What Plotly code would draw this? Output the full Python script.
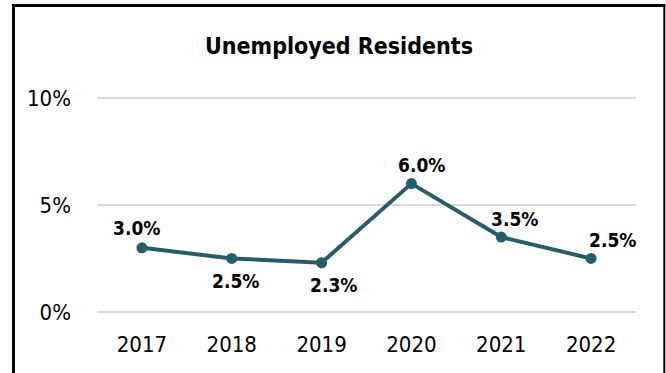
import plotly.graph_objects as go

years = ["2017", "2018", "2019", "2020", "2021", "2022"]
rates = [3.0, 2.5, 2.3, 6.0, 3.5, 2.5]
labels = ["3.0%", "2.5%", "2.3%", "6.0%", "3.5%", "2.5%"]
y_ticks = [0, 5, 10]
y_tick_text = ["0%", "5%", "10%"]

# label offsets (px): x right positive, y up positive
label_dx = [-5, 4, 12, 10, 13, 21]
label_dy = [20, -23, -22, 19, 18, 18]

W, H = 666, 373
ML, MR, MT, MB = 97, 30, 97, 60
PW, PH = W - ML - MR, H - MT - MB
Y0, Y1 = -0.05, 10.05

NARROW = "DejaVu Sans Condensed, Liberation Sans Narrow, sans-serif"
COLOR = "#255E6B"

fig = go.Figure()
fig.add_trace(go.Scatter(
    x=years, y=rates, mode="lines+markers",
    line=dict(color=COLOR, width=4),
    marker=dict(size=11, color=COLOR),
    hoverinfo="skip",
))

for i, (y, t, dx, dy) in enumerate(zip(rates, labels, label_dx, label_dy)):
    fig.add_annotation(x=i, y=y, xref="x", yref="y", text="<b>" + t + "</b>",
                       showarrow=False, xshift=dx, yshift=dy,
                       font=dict(family=NARROW, size=19, color="#000000"))

def px_x(p):
    return (p - ML) / PW

def px_y(p):
    return (H - MB - p) / PH

frame = [
    (13.5, 5.5, 13.5, 400, 3),
    (12, 5.5, 665.3, 5.5, 3),
    (664.3, 5.5, 664.3, 400, 2),
]
for x0, y0, x1, y1, w in frame:
    fig.add_shape(type="line", xref="paper", yref="paper",
                  x0=px_x(x0), y0=px_y(y0), x1=px_x(x1), y1=px_y(y1),
                  line=dict(color="#000000", width=w))

fig.update_layout(
    width=W, height=H, autosize=False,
    margin=dict(l=ML, r=MR, t=MT, b=MB),
    paper_bgcolor="white", plot_bgcolor="white",
    showlegend=False,
    title=dict(text="<b>Unemployed Residents</b>", x=339 / W, xanchor="center",
               y=(H - 46) / H, yanchor="middle", yref="container",
               font=dict(family=NARROW, size=23, color="#000000")),
    xaxis=dict(type="category", range=[-0.5, 5.5], showgrid=False, showline=False,
               zeroline=False, ticks="", ticklabelstandoff=16,
               tickfont=dict(family=NARROW, size=22, color="#000000")),
    yaxis=dict(range=[Y0, Y1], tickvals=y_ticks, ticktext=y_tick_text,
               showgrid=True, gridcolor="#D9D9D9", gridwidth=1.5,
               zeroline=False, showline=False, ticks="", ticklabelstandoff=25,
               tickfont=dict(family=NARROW, size=22, color="#000000")),
)

fig.write_html("out.html")
